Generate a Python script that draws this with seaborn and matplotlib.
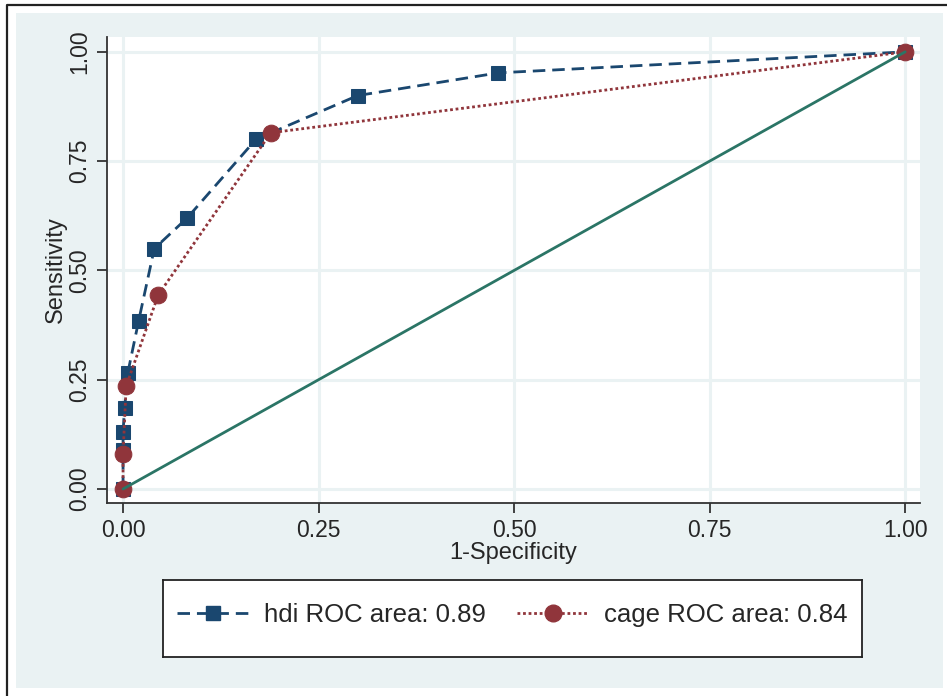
import numpy as np
import pandas as pd
import seaborn as sns
from matplotlib import pyplot as plt
from matplotlib.lines import Line2D
from matplotlib.patches import Rectangle

# ROC points
hdi_fpr = [0.0, 0.0, 0.0, 0.002, 0.006, 0.02, 0.04, 0.082, 0.17, 0.30, 0.48, 1.0]
hdi_tpr = [0.0, 0.09, 0.13, 0.185, 0.265, 0.385, 0.55, 0.62, 0.80, 0.90, 0.952, 1.0]
cage_fpr = [0.0, 0.0, 0.004, 0.045, 0.189, 1.0]
cage_tpr = [0.0, 0.08, 0.235, 0.444, 0.815, 1.0]
ref_x = [0.0, 1.0]
ref_y = [0.0, 1.0]
ticks = [0.0, 0.25, 0.5, 0.75, 1.0]
tick_labels = ['0.00', '0.25', '0.50', '0.75', '1.00']
legend_labels = ['hdi ROC area: 0.89', 'cage ROC area: 0.84']

navy = '#1A476F'
maroon = '#90353B'
teal = '#2B7566'
region = '#EAF2F3'

sns.set_style('white')
plt.rcParams['font.family'] = ['Liberation Sans', 'DejaVu Sans']

fig = plt.figure(figsize=(9.47, 6.96), dpi=100)
fig.patch.set_facecolor('white')

# graph region background and outer frame
fig.add_artist(Rectangle((16 / 947, 1 - 688 / 696), (943 - 16) / 947, (688 - 13) / 696,
                         transform=fig.transFigure, facecolor=region, edgecolor='none', zorder=0))
fig.add_artist(Line2D([7 / 947, 7 / 947, 1], [0, 1 - 5 / 696, 1 - 5 / 696],
                      transform=fig.transFigure, color='#222222', lw=1.6))

ax = fig.add_axes([107 / 947, 1 - 503 / 696, (920 - 107) / 947, (503 - 37) / 696])
ax.set_facecolor('white')

hdi = pd.DataFrame({'x': hdi_fpr, 'y': hdi_tpr})
cage = pd.DataFrame({'x': cage_fpr, 'y': cage_tpr})

sns.lineplot(data=hdi, x='x', y='y', ax=ax, estimator=None, sort=False,
             color=navy, lw=2.0, dashes=False, linestyle=(0, (4.5, 2.5)),
             marker='s', markersize=10.5, markeredgecolor=navy, markerfacecolor=navy, zorder=3)
sns.lineplot(data=cage, x='x', y='y', ax=ax, estimator=None, sort=False,
             color=maroon, lw=2.0, dashes=False, linestyle=(0, (1, 1)),
             marker='o', markersize=12, markeredgecolor=maroon, markerfacecolor=maroon, zorder=4)
sns.lineplot(x=ref_x, y=ref_y, ax=ax, estimator=None, color=teal, lw=2.0, zorder=5)

ax.set_xlim(-0.0205, 1.019)
ax.set_ylim(-0.032, 1.034)
ax.set_xticks(ticks)
ax.set_xticklabels(tick_labels)
ax.set_yticks(ticks)
ax.set_yticklabels(tick_labels, rotation=90, va='center')
ax.grid(True, color=region, lw=2.2)
ax.set_axisbelow(True)

for side in ['top', 'right']:
    ax.spines[side].set_visible(False)
for side in ['left', 'bottom']:
    ax.spines[side].set_color('#333333')
    ax.spines[side].set_linewidth(1.3)
ax.tick_params(axis='both', which='major', direction='out', length=7.5, width=1.3,
               color='#333333', labelsize=16.5, pad=4, left=True, bottom=True)

ax.set_xlabel('1-Specificity', fontsize=17, labelpad=0)
ax.set_ylabel('Sensitivity', fontsize=17, labelpad=1)

# legend box
lax = fig.add_axes([163 / 947, 1 - 657 / 696, (862 - 163) / 947, (657 - 580) / 696])
lax.set_facecolor('white')
lax.set_xticks([])
lax.set_yticks([])
for s in lax.spines.values():
    s.set_color('#222222')
    s.set_linewidth(1.3)
handles = [
    Line2D([], [], color=navy, lw=2.0, linestyle=(0, (4.5, 2.5)), marker='s',
           markersize=10.5, markerfacecolor=navy, markeredgecolor=navy),
    Line2D([], [], color=maroon, lw=2.0, linestyle=(0, (1, 1)), marker='o',
           markersize=12, markerfacecolor=maroon, markeredgecolor=maroon),
]
lax.legend(handles, legend_labels, loc='upper center', bbox_to_anchor=(0.5, 1.0), ncol=2,
           frameon=False, fontsize=18.5, handlelength=2.8, handletextpad=0.6,
           columnspacing=1.2, numpoints=1)

fig.savefig('out.png', dpi=100)
